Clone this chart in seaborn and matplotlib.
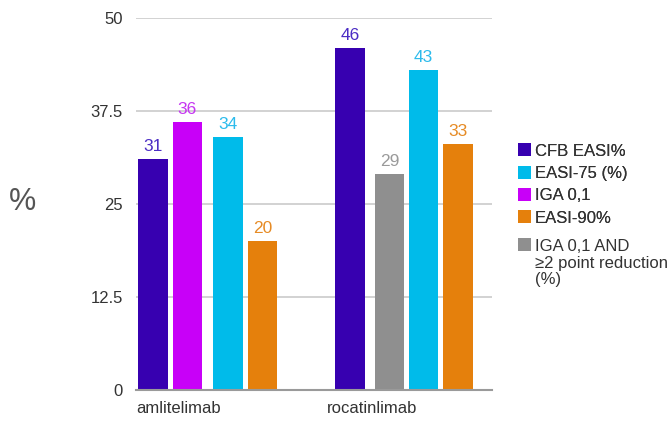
import matplotlib
matplotlib.use("Agg")
import matplotlib.pyplot as plt
import matplotlib.transforms as mtransforms
import numpy as np
import pandas as pd
import seaborn as sns

# ---- data -------------------------------------------------------------
groups = ["amlitelimab", "rocatinlimab"]

amli_measures = ["CFB EASI%", "IGA 0,1", "EASI-75 (%)", "EASI-90%"]
amli_values = [31, 36, 34, 20]

roca_measures = ["CFB EASI%", "IGA 0,1 AND\n≥2 point reduction\n(%)", "EASI-75 (%)", "EASI-90%"]
roca_values = [46, 29, 43, 33]

legend_order = ["CFB EASI%", "EASI-75 (%)", "IGA 0,1", "EASI-90%",
                "IGA 0,1 AND\n≥2 point reduction\n(%)"]

y_ticks = [0, 12.5, 25, 37.5, 50]
y_tick_labels = ["0", "12.5", "25", "37.5", "50"]

# ---- styling ----------------------------------------------------------
palette = {
    "CFB EASI%": "#3700b0",
    "IGA 0,1": "#c800f8",
    "EASI-75 (%)": "#00bbea",
    "EASI-90%": "#e5800c",
    "IGA 0,1 AND\n≥2 point reduction\n(%)": "#8f8f8f",
}
label_colors = {
    "CFB EASI%": "#4b2cc4",
    "IGA 0,1": "#c636f2",
    "EASI-75 (%)": "#2cbbec",
    "EASI-90%": "#e68b25",
    "IGA 0,1 AND\n≥2 point reduction\n(%)": "#9a9a9a",
}

# slot layout inside each group: a slightly wider gap after one bar
group_start = [0.0, 5.74]
wide_gap_after = [1, 0]
wide_gap = [0.19, 0.15]

rows = []
for g, (name, measures, values) in enumerate(
        [(groups[0], amli_measures, amli_values),
         (groups[1], roca_measures, roca_values)]):
    for i, (m, v) in enumerate(zip(measures, values)):
        pos = group_start[g] + i + (wide_gap[g] if i > wide_gap_after[g] else 0.0)
        rows.append({"group": name, "measure": m, "value": v, "pos": pos})
df = pd.DataFrame(rows)

sns.set_theme(style="white")
plt.rcParams["font.family"] = ["Liberation Sans", "DejaVu Sans"]

W, H = 667, 423
fig = plt.figure(figsize=(W / 100, H / 100), dpi=100)
ax = fig.add_axes([136 / W, 1 - 389.5 / H, (492 - 136) / W, (389.5 - 18) / H])

sns.barplot(data=df, x="pos", y="value", hue="measure", hue_order=legend_order,
            palette=palette, native_scale=True, dodge=False, width=0.86,
            saturation=1, edgecolor="none", ax=ax)

# value labels above the bars
for _, r in df.iterrows():
    ax.annotate(f"{r['value']}", (r["pos"], r["value"]), xytext=(0, 3.5),
                textcoords="offset points", ha="center", va="bottom",
                fontsize=12.5, color=label_colors[r["measure"]])

ax.set_xlim(-0.496, 9.88)
ax.set_ylim(0, 50)
ax.set_yticks(y_ticks)
ax.set_yticklabels(y_tick_labels)
ax.tick_params(axis="y", length=0, pad=9.5, labelsize=12, labelcolor="#333333")
ax.yaxis.grid(True, color="#d2d2d2", linewidth=1.4)
ax.set_axisbelow(True)
for s in ["left", "right", "top"]:
    ax.spines[s].set_visible(False)
ax.spines["bottom"].set_color("#9a9a9a")
ax.spines["bottom"].set_linewidth(1.5)

# group names, left-aligned under each group
ax.set_xticks([])
ax.set_xlabel("")
ax.set_ylabel("")
trans = mtransforms.blended_transform_factory(ax.transData, ax.transAxes)
for name, x0 in zip(groups, [-0.496, 5.07]):
    ax.text(x0, -0.03, name, transform=trans, ha="left", va="top",
            fontsize=12, color="#333333")

fig.text(22 / W, 1 - 201.5 / H, "%", ha="center", va="center",
         fontsize=22, color="#555555")

# legend: four measures, then the gray one set slightly apart
handles, labels = ax.get_legend_handles_labels()
ax.get_legend().remove()
hmap = dict(zip(labels, handles))
leg_kw = dict(frameon=False, fontsize=12, handlelength=0.75, handleheight=0.82,
              handletextpad=0.25, borderpad=0, borderaxespad=0,
              labelcolor="#333333", loc="upper left")
leg1 = fig.legend([hmap[l] for l in legend_order[:4]], legend_order[:4],
                  bbox_to_anchor=(518 / W, 1 - 143.5 / H), labelspacing=0.42,
                  **leg_kw)

gray_label = legend_order[4]
first_line, rest = gray_label.split("\n", 1)
leg2 = fig.legend([hmap[gray_label]], [first_line],
                  bbox_to_anchor=(518 / W, 1 - 238.5 / H), **leg_kw)
fig.add_artist(leg1)
fig.text(535 / W, 1 - 256 / H, rest, ha="left", va="top", fontsize=12,
         color="#333333", linespacing=1.08)

fig.savefig("out.png", dpi=100)
